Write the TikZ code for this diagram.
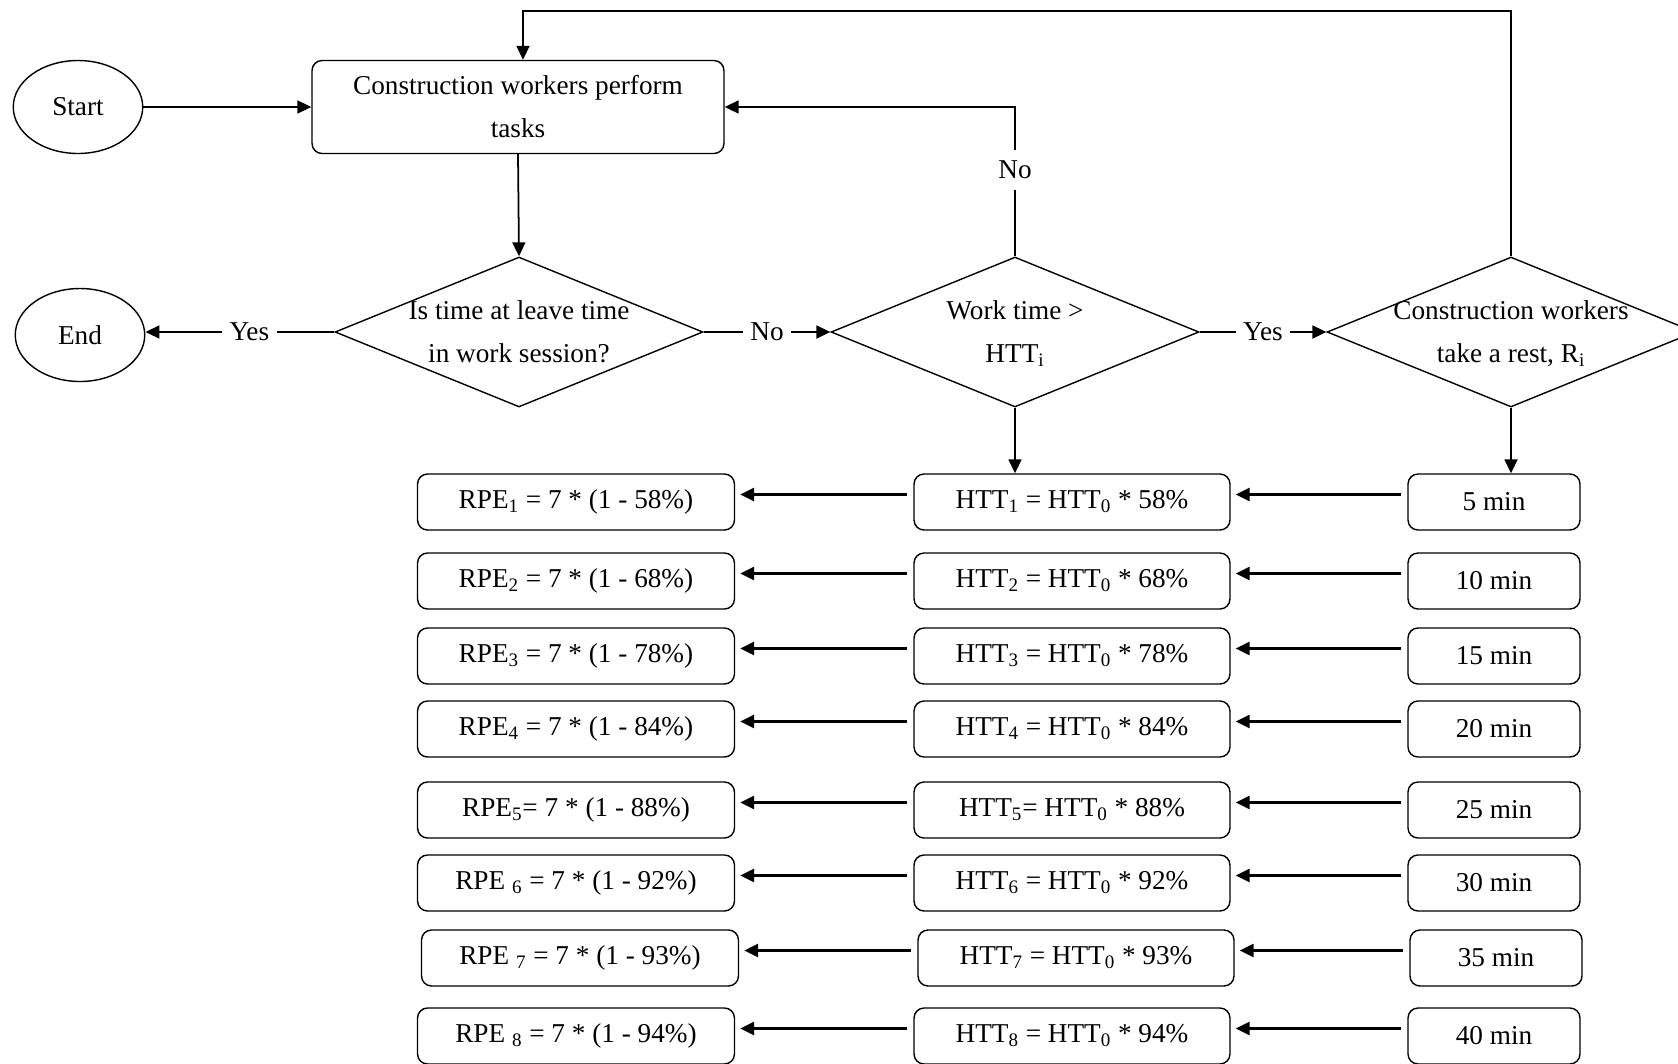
\documentclass[tikz,border=0pt]{standalone}
\usepackage{fontspec}
\setmainfont{Liberation Serif}
\usetikzlibrary{shapes.geometric,arrows.meta}

\tikzset{
  flow/.style={draw,line width=0.8pt,font=\fontsize{15.5}{24.5}\selectfont},
  terminal/.style={flow,ellipse,inner sep=0pt,minimum width=2.59cm,minimum height=1.86cm},
  process/.style={flow,rounded corners=0.2cm,align=center,minimum width=8.24cm,minimum height=1.86cm},
  decision/.style={flow,diamond,align=center,aspect=2.45,inner xsep=-1cm,inner ysep=-0.3cm,minimum width=7.36cm,minimum height=3cm},
  rowbox/.style={flow,rounded corners=0.2cm,minimum height=1.12cm},
  arr/.style={line width=1pt,-{Triangle[length=0.28cm,width=0.26cm]}},
  rowarr/.style={arr,line width=1.4pt,shorten <=0.12cm,shorten >=0.1cm},
  answer/.style={fill=white,font=\fontsize{15.5}{24.5}\selectfont,inner xsep=0.15cm,inner ysep=0.1cm}
}

\begin{document}
\begin{tikzpicture}[x=0.02cm,y=-0.02cm]

\useasboundingbox (0,0) rectangle (1678,1063) ;
\clip (0,0) rectangle (1678,1063) ;

%top part
\node [terminal] (start) at (78,107) {Start} ;
\node [terminal] (finish) at (80,335) {End} ;
\node [process] (tasks) at (518,107) {Construction workers perform\\tasks} ;
\node [decision] (check) at (519,332) {\strut Is time at leave time\\\strut in work session?} ;
\node [decision] (worktime) at (1015,332) {\strut Work time >\\\strut HTT\textsubscript{i}} ;
\node [decision] (rest) at (1511,332) {\strut Construction workers\\\strut take a rest, R\textsubscript{i}} ;
\coordinate (loop) at (0,11) ;

%top connectors
\draw [arr] (start.east) -- (tasks.west) ;
\draw [arr] (tasks.south) -- (check.north) ;
\draw [arr] (check.west) -- node [answer,pos=0.45] {Yes} (check.west -| finish.east) ;
\draw [arr] (check.east) -- node [answer] {No} (worktime.west) ;
\draw [arr] (worktime.east) -- node [answer] {Yes} (rest.west) ;
\draw [arr] (worktime.north) |- node [answer,pos=0.29,inner ysep=0.22cm] {No} (tasks.east) ;
\draw [arr] (rest.north) -- (rest.north |- loop) -| ([xshift=0.1cm]tasks.north) ;

%row 1
\node [rowbox,minimum width=6.34cm] (rpe1) at (576,502) {RPE\textsubscript{1} = 7 * (1 - 58\%)} ;
\node [rowbox,minimum width=6.32cm] (htt1) at (1072,502) {HTT\textsubscript{1} = HTT\textsubscript{0} * 58\%} ;
\node [rowbox,minimum width=3.44cm] (min1) at (1494,502) {5 min} ;
\draw [rowarr] ([yshift=0.15cm]min1.west) -- ([yshift=0.15cm]htt1.east) ;
\draw [rowarr] ([yshift=0.15cm]htt1.west) -- ([yshift=0.15cm]rpe1.east) ;

%row 2
\node [rowbox,minimum width=6.34cm] (rpe2) at (576,581) {RPE\textsubscript{2} = 7 * (1 - 68\%)} ;
\node [rowbox,minimum width=6.32cm] (htt2) at (1072,581) {HTT\textsubscript{2} = HTT\textsubscript{0} * 68\%} ;
\node [rowbox,minimum width=3.44cm] (min2) at (1494,581) {10 min} ;
\draw [rowarr] ([yshift=0.15cm]min2.west) -- ([yshift=0.15cm]htt2.east) ;
\draw [rowarr] ([yshift=0.15cm]htt2.west) -- ([yshift=0.15cm]rpe2.east) ;

%row 3
\node [rowbox,minimum width=6.34cm] (rpe3) at (576,656) {RPE\textsubscript{3} = 7 * (1 - 78\%)} ;
\node [rowbox,minimum width=6.32cm] (htt3) at (1072,656) {HTT\textsubscript{3} = HTT\textsubscript{0} * 78\%} ;
\node [rowbox,minimum width=3.44cm] (min3) at (1494,656) {15 min} ;
\draw [rowarr] ([yshift=0.15cm]min3.west) -- ([yshift=0.15cm]htt3.east) ;
\draw [rowarr] ([yshift=0.15cm]htt3.west) -- ([yshift=0.15cm]rpe3.east) ;

%row 4
\node [rowbox,minimum width=6.34cm] (rpe4) at (576,729) {RPE\textsubscript{4} = 7 * (1 - 84\%)} ;
\node [rowbox,minimum width=6.32cm] (htt4) at (1072,729) {HTT\textsubscript{4} = HTT\textsubscript{0} * 84\%} ;
\node [rowbox,minimum width=3.44cm] (min4) at (1494,729) {20 min} ;
\draw [rowarr] ([yshift=0.15cm]min4.west) -- ([yshift=0.15cm]htt4.east) ;
\draw [rowarr] ([yshift=0.15cm]htt4.west) -- ([yshift=0.15cm]rpe4.east) ;

%row 5
\node [rowbox,minimum width=6.34cm] (rpe5) at (576,810) {RPE\textsubscript{5}= 7 * (1 - 88\%)} ;
\node [rowbox,minimum width=6.32cm] (htt5) at (1072,810) {HTT\textsubscript{5}= HTT\textsubscript{0} * 88\%} ;
\node [rowbox,minimum width=3.44cm] (min5) at (1494,810) {25 min} ;
\draw [rowarr] ([yshift=0.15cm]min5.west) -- ([yshift=0.15cm]htt5.east) ;
\draw [rowarr] ([yshift=0.15cm]htt5.west) -- ([yshift=0.15cm]rpe5.east) ;

%row 6
\node [rowbox,minimum width=6.34cm] (rpe6) at (576,883) {RPE \textsubscript{6} = 7 * (1 - 92\%)} ;
\node [rowbox,minimum width=6.32cm] (htt6) at (1072,883) {HTT\textsubscript{6} = HTT\textsubscript{0} * 92\%} ;
\node [rowbox,minimum width=3.44cm] (min6) at (1494,883) {30 min} ;
\draw [rowarr] ([yshift=0.15cm]min6.west) -- ([yshift=0.15cm]htt6.east) ;
\draw [rowarr] ([yshift=0.15cm]htt6.west) -- ([yshift=0.15cm]rpe6.east) ;

%row 7
\node [rowbox,minimum width=6.34cm] (rpe7) at (580,958) {RPE \textsubscript{7} = 7 * (1 - 93\%)} ;
\node [rowbox,minimum width=6.32cm] (htt7) at (1076,958) {HTT\textsubscript{7} = HTT\textsubscript{0} * 93\%} ;
\node [rowbox,minimum width=3.44cm] (min7) at (1496,958) {35 min} ;
\draw [rowarr] ([yshift=0.15cm]min7.west) -- ([yshift=0.15cm]htt7.east) ;
\draw [rowarr] ([yshift=0.15cm]htt7.west) -- ([yshift=0.15cm]rpe7.east) ;

%row 8
\node [rowbox,minimum width=6.34cm] (rpe8) at (576,1036) {RPE \textsubscript{8} = 7 * (1 - 94\%)} ;
\node [rowbox,minimum width=6.32cm] (htt8) at (1072,1036) {HTT\textsubscript{8} = HTT\textsubscript{0} * 94\%} ;
\node [rowbox,minimum width=3.44cm] (min8) at (1494,1036) {40 min} ;
\draw [rowarr] ([yshift=0.15cm]min8.west) -- ([yshift=0.15cm]htt8.east) ;
\draw [rowarr] ([yshift=0.15cm]htt8.west) -- ([yshift=0.15cm]rpe8.east) ;

%down to the rows
\draw [arr] (worktime.south) -- (worktime.south |- htt1.north) ;
\draw [arr] (rest.south) -- (rest.south |- min1.north) ;

\end{tikzpicture}
\end{document}
